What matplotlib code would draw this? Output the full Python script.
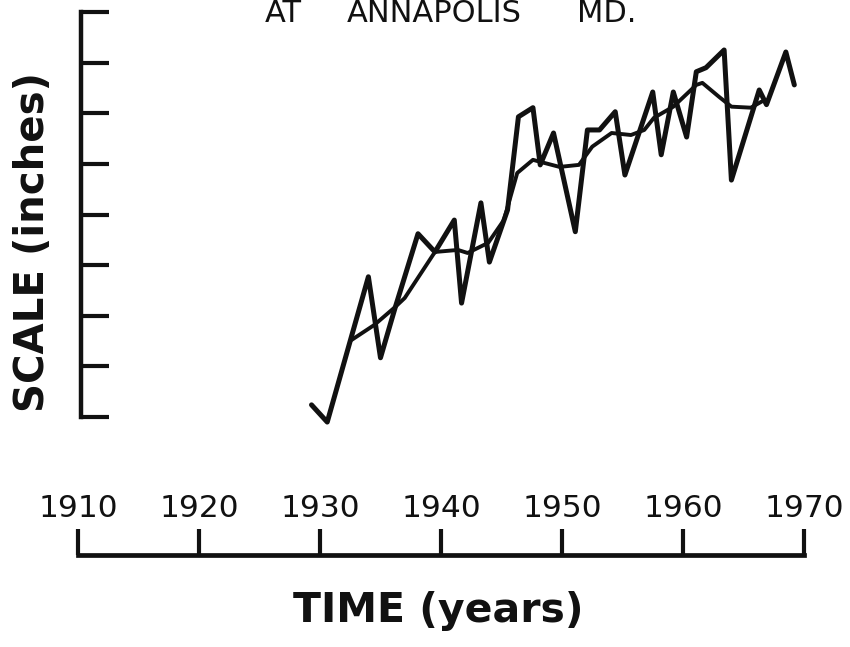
import matplotlib
matplotlib.use('Agg')
import matplotlib.pyplot as plt

plt.rcParams['font.family'] = ['DejaVu Sans']

# yearly means (traced), scale units = one tick interval
jag_years = [1929.3, 1930.6, 1934.0, 1935.0, 1936.2, 1938.1, 1939.5, 1941.1, 1941.7,
             1943.3, 1944.0, 1945.5, 1946.4, 1947.6, 1948.2, 1949.3, 1951.1, 1952.1,
             1953.1, 1954.4, 1955.2, 1957.5, 1958.2, 1959.2, 1960.3, 1961.1, 1961.9,
             1963.4, 1964.0, 1966.3, 1966.9, 1968.5, 1969.2]
jag_vals = [0.24, -0.10, 2.77, 1.17, 2.15, 3.62, 3.26, 3.89, 2.25,
            4.23, 3.06, 4.09, 5.93, 6.11, 4.98, 5.61, 3.66, 5.67,
            5.67, 6.03, 4.78, 6.42, 5.18, 6.42, 5.53, 6.82, 6.90,
            7.25, 4.68, 6.46, 6.17, 7.21, 6.56]

# running mean
sm_years = [1932.6, 1934.5, 1936.2, 1937.0, 1939.5, 1941.4, 1942.2, 1943.9, 1945.2,
            1946.3, 1947.6, 1948.2, 1949.8, 1951.4, 1952.5, 1954.1, 1955.7, 1956.8,
            1957.6, 1959.2, 1961.1, 1961.6, 1963.0, 1964.0, 1965.6, 1966.5]
sm_vals = [1.52, 1.82, 2.17, 2.35, 3.26, 3.30, 3.24, 3.44, 3.89,
           4.82, 5.08, 5.04, 4.94, 4.98, 5.34, 5.61, 5.57, 5.67,
           5.91, 6.13, 6.56, 6.60, 6.32, 6.13, 6.11, 6.23]

year_ticks = [1910, 1920, 1930, 1940, 1950, 1960, 1970]
scale_ticks = [0, 1, 2, 3, 4, 5, 6, 7, 8]

W, H = 850, 647
ink = '#111111'
fig = plt.figure(figsize=(W / 100, H / 100), dpi=100)

# main panel: x 1910.25..1970 -> px 81..804, y 0..8 -> px 417..12
ax = fig.add_axes([81 / W, (H - 417) / H, (804 - 81) / W, (417 - 12) / H])
ax.set_xlim(1910.25, 1970)
ax.set_ylim(0, 8)
for s in ['top', 'right', 'bottom']:
    ax.spines[s].set_visible(False)
ax.spines['left'].set_linewidth(3.2)
ax.spines['left'].set_color(ink)
ax.set_xticks([])
ax.set_yticks(scale_ticks)
ax.tick_params(axis='y', direction='in', length=20, width=3, color=ink, labelleft=False)
ax.set_facecolor('none')

ax.plot(jag_years, jag_vals, color=ink, lw=3.6, solid_joinstyle='round',
        solid_capstyle='round', clip_on=False)
ax.plot(sm_years, sm_vals, color=ink, lw=2.8, solid_joinstyle='round',
        solid_capstyle='round', clip_on=False)

# time axis below, labels above the line
ax2 = fig.add_axes([78 / W, (H - 555) / H, (804 - 78) / W, 0.0001])
ax2.set_xlim(1910, 1970)
ax2.set_yticks([])
for s in ['top', 'right', 'left']:
    ax2.spines[s].set_visible(False)
ax2.spines['bottom'].set_linewidth(3.4)
ax2.spines['bottom'].set_color(ink)
ax2.set_xticks(year_ticks)
ax2.set_xticklabels([str(y) for y in year_ticks])
ax2.tick_params(axis='x', direction='in', length=19, width=3, color=ink,
                bottom=True, top=False, labelbottom=False, labeltop=True,
                pad=23, labelsize=22.5, labelcolor=ink)
ax2.set_facecolor('none')

fig.text(33 / W, (H - 242) / H, 'SCALE (inches)', rotation=90, ha='center',
         va='center', fontsize=29, fontweight='bold', color=ink)
fig.text(438 / W, (H - 622) / H, 'TIME (years)', ha='center', va='baseline',
         fontsize=29.5, fontweight='bold', color=ink)

# title at the very top edge
fig.text(265 / W, (H - 22) / H, 'AT', ha='left', va='baseline', fontsize=22, color=ink)
fig.text(347 / W, (H - 22) / H, 'ANNAPOLIS', ha='left', va='baseline', fontsize=22, color=ink)
fig.text(577 / W, (H - 22) / H, 'MD.', ha='left', va='baseline', fontsize=22, color=ink)

fig.savefig('out.png', dpi=100)
